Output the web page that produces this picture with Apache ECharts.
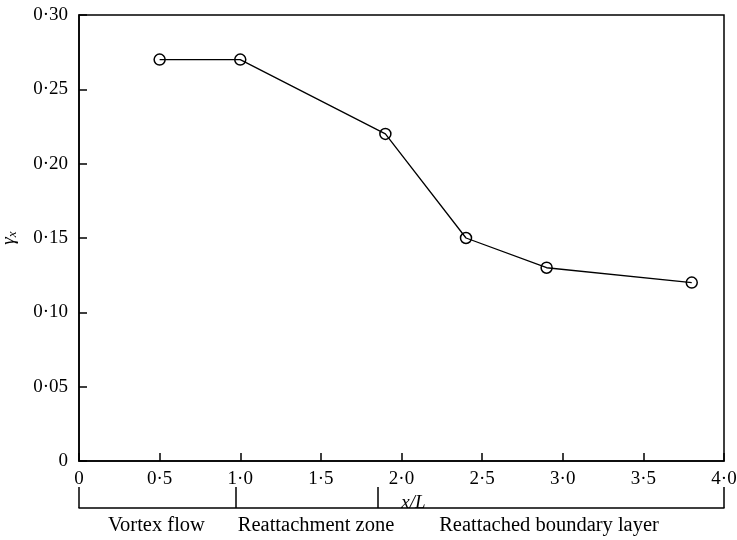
<!DOCTYPE html>
<html>
<head>
<meta charset="utf-8">
<script src="https://cdn.jsdelivr.net/npm/echarts@6/dist/echarts.min.js"></script>
<style>
  html, body { margin: 0; padding: 0; background: #fff; }
  #chart { width: 737px; height: 540px; }
</style>
</head>
<body>
<div id="chart"></div>
<script>
// Streamwise position x/L and measured gamma_x
const xPositions = [0.5, 1.0, 1.9, 2.4, 2.9, 3.8];
const gammaX = [0.27, 0.27, 0.22, 0.15, 0.13, 0.12];

// Flow regime bar beneath the axis
const zoneBounds = [0, 0.97, 1.85, 4.0];
const zoneNames = ['Vortex flow', 'Reattachment zone', 'Reattached boundary layer'];
const zoneLabelAt = [0.48, 1.47, 2.915];

const FONT = '"Liberation Serif", "DejaVu Serif", serif';

function dotDecimal(v, digits) {
  if (Math.abs(v) < 1e-9) return '0';
  return v.toFixed(digits).replace('.', '\u00B7');
}

const chart = echarts.init(document.getElementById('chart'), null, { renderer: 'canvas' });

chart.setOption({
  animation: false,
  backgroundColor: '#fff',
  grid: {
    left: 79, top: 15, right: 13, bottom: 79,
    outerBoundsMode: 'none',
    containLabel: false,
    show: true, borderColor: '#000', borderWidth: 1.5, backgroundColor: 'transparent'
  },
  xAxis: [
    {
      type: 'value', min: 0, max: 4, interval: 0.5,
      position: 'bottom',
      name: 'x/L',
      nameLocation: 'middle',
      nameGap: 26,
      nameTextStyle: { fontFamily: FONT, fontSize: 19, fontStyle: 'italic', color: '#000', padding: [0, 0, 0, 24] },
      axisLine: { show: true, onZero: false, lineStyle: { color: '#000', width: 1.5 } },
      axisTick: { show: true, inside: true, length: 8, lineStyle: { color: '#000', width: 1.5 } },
      axisLabel: {
        fontFamily: FONT, fontSize: 19, color: '#000', margin: 9,
        formatter: v => dotDecimal(v, 1)
      },
      splitLine: { show: false }
    },
    {
      type: 'value', min: 0, max: 4,
      position: 'bottom',
      offset: 47,
      axisLine: { show: true, onZero: false, lineStyle: { color: '#000', width: 1.5 } },
      axisTick: {
        show: true, inside: true, length: 21,
        customValues: zoneBounds,
        lineStyle: { color: '#000', width: 1.5 }
      },
      axisLabel: {
        show: true, fontFamily: FONT, fontSize: 20.5, color: '#000', margin: 7,
        customValues: zoneLabelAt,
        formatter: v => {
          const i = zoneLabelAt.findIndex(p => Math.abs(p - v) < 1e-6);
          return i >= 0 ? zoneNames[i] : '';
        }
      },
      splitLine: { show: false }
    }
  ],
  yAxis: {
    type: 'value', min: 0, max: 0.3, interval: 0.05,
    name: '{g|\u03B3}{s|x}',
    nameLocation: 'middle',
    nameRotate: 90,
    nameGap: 60,
    nameTextStyle: {
      color: '#000',
      rich: {
        g: { fontFamily: FONT, fontSize: 19, fontStyle: 'italic', color: '#000' },
        s: { fontFamily: FONT, fontSize: 13, fontStyle: 'italic', color: '#000', verticalAlign: 'bottom', padding: [8, 0, 0, 0] }
      }
    },
    axisLine: { show: true, onZero: false, lineStyle: { color: '#000', width: 1.5 } },
    axisTick: { show: true, inside: true, length: 8, lineStyle: { color: '#000', width: 1.5 } },
    axisLabel: {
      fontFamily: FONT, fontSize: 19, color: '#000', margin: 11,
      formatter: v => dotDecimal(v, 2)
    },
    splitLine: { show: false }
  },
  series: [{
    type: 'line',
    xAxisIndex: 0,
    data: xPositions.map((x, i) => [x, gammaX[i]]),
    symbol: 'circle',
    symbolSize: 11,
    lineStyle: { color: '#000', width: 1.3 },
    itemStyle: { color: 'rgba(0,0,0,0)', borderColor: '#000', borderWidth: 1.5 }
  }]
});
</script>
</body>
</html>
